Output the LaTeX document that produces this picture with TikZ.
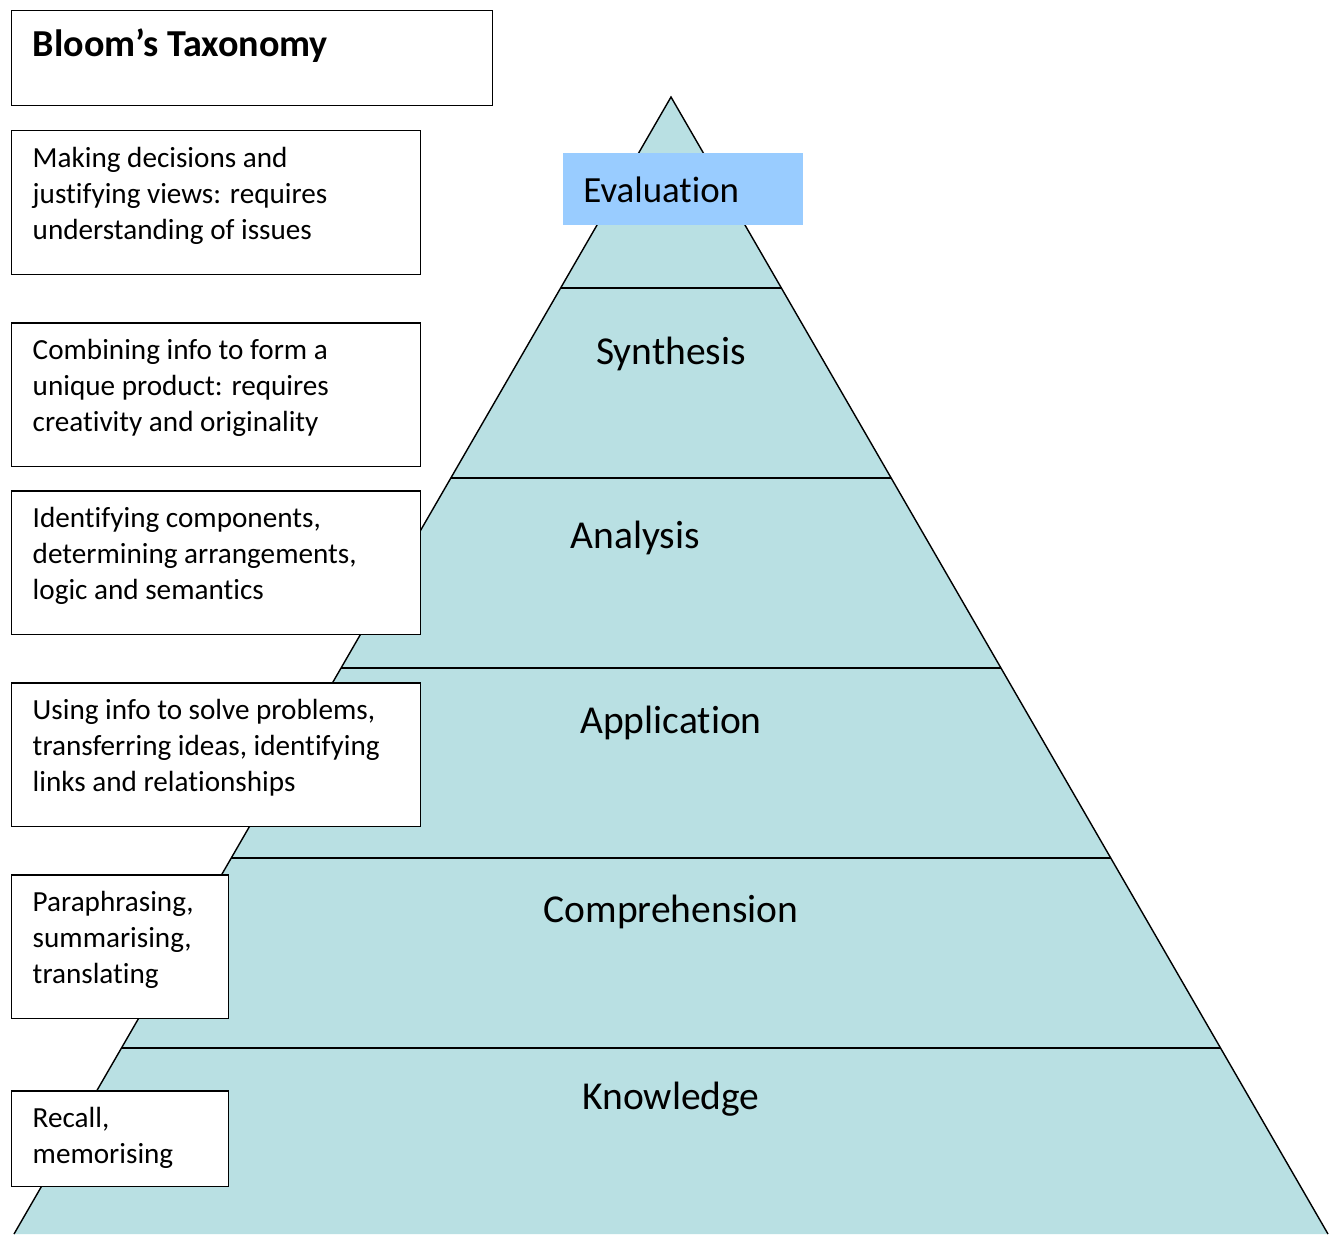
\documentclass[tikz,border=0pt]{standalone}
\usepackage{fontspec}
\setmainfont{Carlito}[Ligatures=NoCommon]
\usepackage{xcolor}
\usepackage{tikz}
\usetikzlibrary{positioning,calc}

\definecolor{pyramidteal}{RGB}{185,224,227}
\definecolor{evalblue}{RGB}{153,204,255}

% top-aligned text block of fixed size for the side boxes
\newcommand{\desctext}[3]{\parbox[t][#2][t]{#1}{\raggedright\strut #3}}

\begin{document}
\begin{tikzpicture}[x=0.02cm, y=-0.02cm,
    every node/.style={font=\fontsize{16.6}{20.5}\selectfont},
    desc/.style={rectangle, draw, line width=0.85pt, fill=white, anchor=north west, inner xsep=0.42cm, inner ysep=0.235cm},
    level/.style={anchor=base, font=\fontsize{22.5}{27}\selectfont},
    evalbox/.style={rectangle, fill=evalblue, anchor=north west, minimum height=1.44cm, text width=4cm, inner xsep=0.4cm, align=left, font=\fontsize{21}{25}\selectfont}
]
\useasboundingbox (0,0) rectangle (1338,1234);

% Pyramid
\coordinate (apex) at (671,97);
\coordinate (baseL) at (14,1234);
\coordinate (baseR) at (1328,1234);
\fill[pyramidteal] (apex) -- (baseL) -- (baseR) -- cycle;
\draw[line width=0.8pt] (baseL) -- (apex) -- (baseR);

% Level dividers
\foreach \y in {288,478,668,858,1048} {
  \pgfmathsetmacro{\cut}{(\y-97)/1137}
  \draw[line width=0.8pt] ($(apex)!\cut!(baseL)$) -- ($(apex)!\cut!(baseR)$);
}

% Levels
\node[evalbox] (evaluation) at (563,153) {Evaluation};
\node[level] (synthesis) at (671,364) {Synthesis};
\node[level] (analysis) at (635,548) {Analysis};
\node[level] (application) at (671,733) {Application};
\node[level] (comprehension) at (671,922) {Comprehension};
\node[level] (knowledge) at (671,1109) {Knowledge};

% Side boxes
\node[desc, inner ysep=0.27cm, font=\bfseries\fontsize{21.7}{26}\selectfont] (title) at (11,10) {\desctext{8.78cm}{1.36cm}{Bloom’s Taxonomy}};
\node[desc] (evaluationinfo) at (11,130) {\desctext{7.34cm}{2.41cm}{Making decisions and\\justifying views: requires\\understanding of issues}};
\node[desc] (synthesisinfo) at (11,322) {\desctext{7.34cm}{2.41cm}{Combining info to form a\\unique product: requires\\creativity and originality}};
\node[desc] (analysisinfo) at (11,490) {\desctext{7.34cm}{2.41cm}{Identifying components,\\determining arrangements,\\logic and semantics}};
\node[desc] (applicationinfo) at (11,682) {\desctext{7.34cm}{2.41cm}{Using info to solve problems,\\transferring ideas, identifying\\links and relationships}};
\node[desc] (comprehensioninfo) at (11,874) {\desctext{3.5cm}{2.41cm}{Paraphrasing,\\summarising,\\translating}};
\node[desc] (knowledgeinfo) at (11,1090) {\desctext{3.5cm}{1.45cm}{Recall,\\memorising}};

\end{tikzpicture}
\end{document}
